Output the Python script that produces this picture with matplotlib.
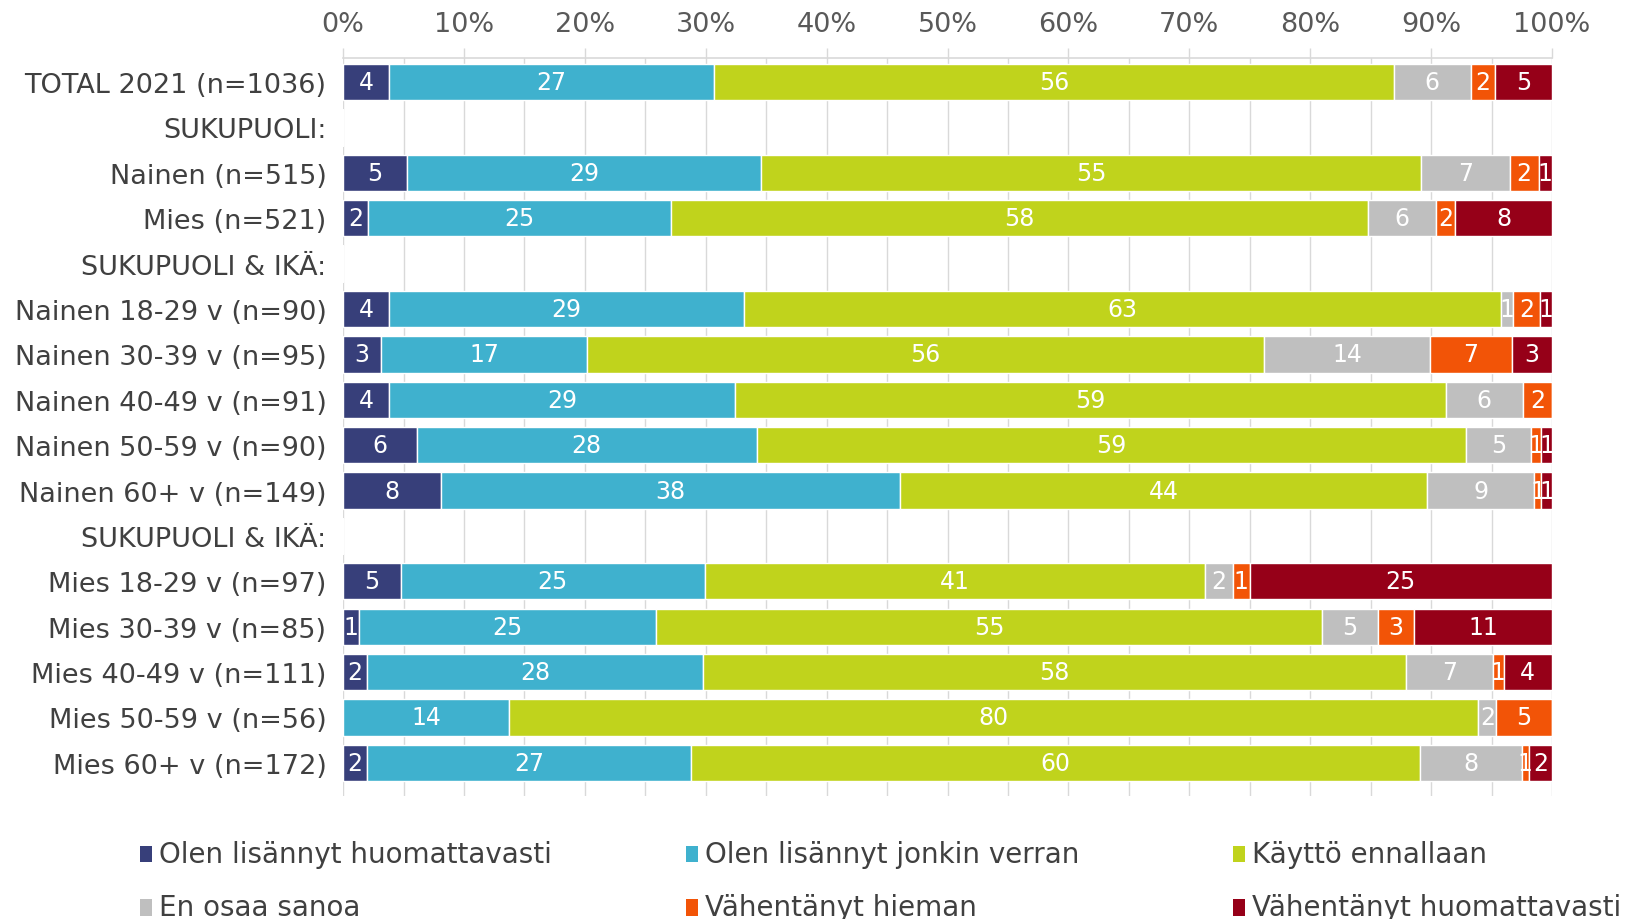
import matplotlib
matplotlib.use("Agg")
import matplotlib.pyplot as plt
from matplotlib.patches import Rectangle
import numpy as np

# rivit ylhäältä alas (otsikkorivit ilman palkkia)
categories = [
    "TOTAL 2021 (n=1036)", "SUKUPUOLI:", "Nainen (n=515)", "Mies (n=521)",
    "SUKUPUOLI & IKÄ:", "Nainen 18-29 v (n=90)", "Nainen 30-39 v (n=95)",
    "Nainen 40-49 v (n=91)", "Nainen 50-59 v (n=90)", "Nainen 60+ v (n=149)",
    "SUKUPUOLI & IKÄ:", "Mies 18-29 v (n=97)", "Mies 30-39 v (n=85)",
    "Mies 40-49 v (n=111)", "Mies 50-59 v (n=56)", "Mies 60+ v (n=172)",
]

series_names = [
    "Olen lisännyt huomattavasti", "Olen lisännyt jonkin verran", "Käyttö ennallaan",
    "En osaa sanoa", "Vähentänyt hieman", "Vähentänyt huomattavasti",
]

lisannyt_paljon = [3.8, 0, 5.3, 2.1, 0, 3.8, 3.1, 3.8, 6.1, 8.1, 0, 4.8, 1.3, 2.0, 0.0, 2.0]
lisannyt_jonkin = [26.9, 0, 29.3, 25.0, 0, 29.4, 17.1, 28.6, 28.1, 38.0, 0, 25.1, 24.6, 27.8, 13.7, 26.8]
ennallaan = [56.2, 0, 54.6, 57.7, 0, 62.6, 56.0, 58.8, 58.7, 43.6, 0, 41.4, 55.1, 58.1, 80.2, 60.3]
en_osaa = [6.4, 0, 7.3, 5.6, 0, 1.0, 13.7, 6.4, 5.4, 8.8, 0, 2.3, 4.6, 7.2, 1.5, 8.4]
vahentanyt_hieman = [2.0, 0, 2.4, 1.6, 0, 2.2, 6.8, 2.4, 0.8, 0.6, 0, 1.4, 3.0, 0.9, 4.6, 0.6]
vahentanyt_paljon = [4.7, 0, 1.1, 8.0, 0, 1.0, 3.3, 0.0, 0.9, 0.9, 0, 25.0, 11.4, 4.0, 0.0, 1.9]

series = [lisannyt_paljon, lisannyt_jonkin, ennallaan, en_osaa, vahentanyt_hieman, vahentanyt_paljon]
colors = ["#373F7A", "#3FB1CE", "#C0D31C", "#BFBFBF", "#F25407", "#960018"]

plt.rcParams["font.family"] = ["DejaVu Sans"]

fig = plt.figure(figsize=(16.29, 9.2), dpi=100)
ax = fig.add_axes([0.2106, 0.1337, 0.7421, 0.8022])

y = np.arange(len(categories))
left = np.zeros(len(categories))
for name, vals, col in zip(series_names, series, colors):
    vals = np.array(vals)
    bars = ax.barh(y, vals, left=left, height=0.8, color=col, edgecolor="white",
                   linewidth=1, label=name, zorder=3)
    for b, v in zip(bars, vals):
        if v >= 0.5:
            ax.text(b.get_x() + b.get_width() / 2, b.get_y() + b.get_height() / 2,
                    f"{round(v):d}", ha="center", va="center", color="white",
                    fontsize=17, zorder=4)
    left += vals

ax.set_xlim(0, 100)
ax.set_ylim(len(categories) - 1 + 0.73, -0.53)

ax.xaxis.tick_top()
ax.set_xticks(np.arange(0, 101, 10))
ax.set_xticks(np.arange(5, 100, 10), minor=True)
ax.set_xticklabels([f"{t}%" for t in range(0, 101, 10)])
ax.tick_params(axis="x", which="major", length=7, width=1, color="#D9D9D9",
               labelsize=19.5, labelcolor="#595959", pad=8)
ax.tick_params(axis="x", which="minor", length=0)
ax.grid(axis="x", which="both", color="#D9D9D9", linewidth=1, zorder=0)

ax.set_yticks(y)
ax.set_yticklabels(categories)
ax.tick_params(axis="y", length=0, labelsize=19.5, labelcolor="#404040", pad=12)

for s in ["right", "bottom", "left"]:
    ax.spines[s].set_visible(False)
ax.spines["top"].set_color("#D9D9D9")
ax.spines["top"].set_linewidth(1.2)

# selite kahdessa rivissä
col_x = [0.086, 0.421, 0.757]
row_y = [0.0705, 0.0125]
for i, (name, col) in enumerate(zip(series_names, colors)):
    cx = col_x[i % 3]
    cy = row_y[i // 3]
    fig.patches.append(Rectangle((cx, cy - 0.009), 0.0075, 0.018, transform=fig.transFigure,
                                 facecolor=col, edgecolor="none"))
    fig.text(cx + 0.0115, cy, name, fontsize=20, color="#404040", va="center", ha="left")

fig.savefig("out.png", dpi=100)
